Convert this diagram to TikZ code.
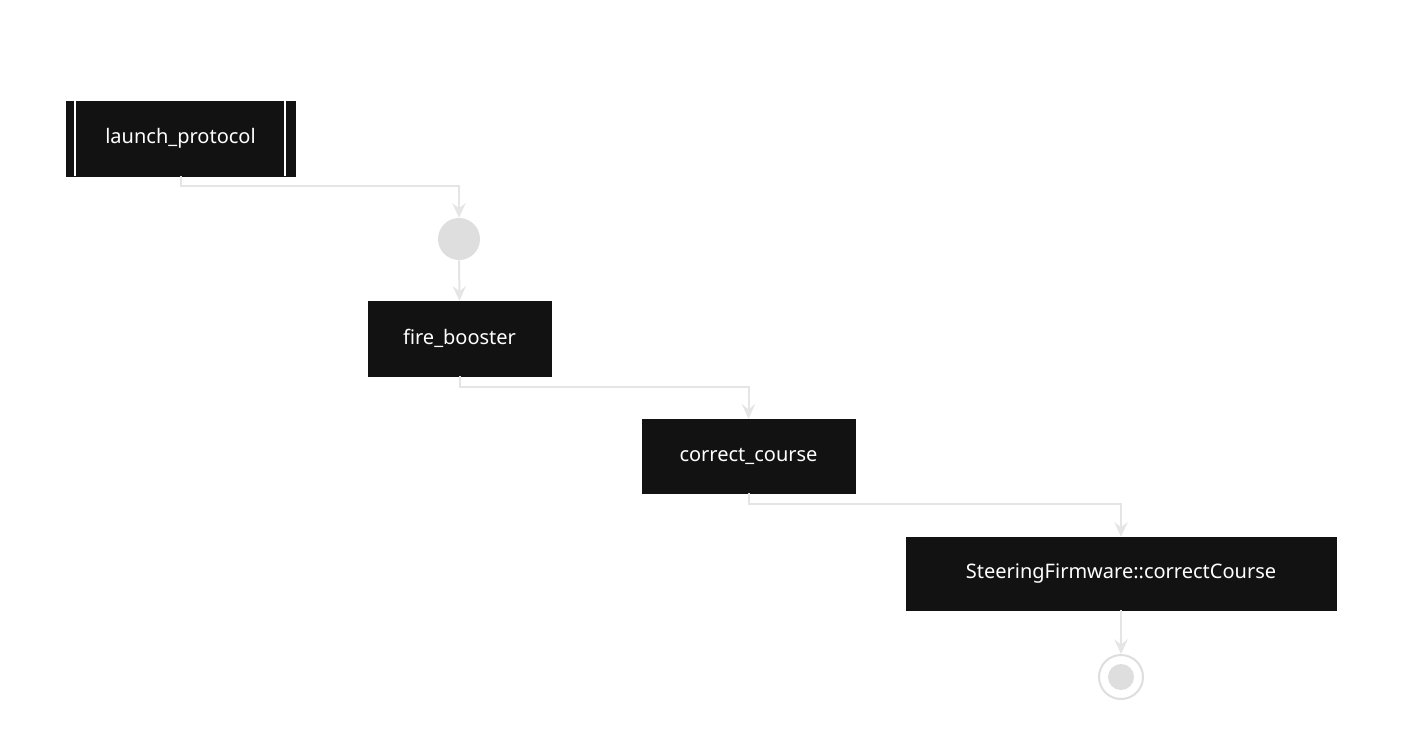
\documentclass[tikz,border=0pt]{standalone}
\usepackage{fontspec}
\setmainfont{Noto Sans}
\usetikzlibrary{arrows.meta}
\begin{document}
\begin{tikzpicture}[x=0.75pt,y=-0.75pt,
  box/.style={fill=black!93,draw=black!93,text=white,font=\fontsize{15}{18}\selectfont,inner sep=0pt},
  conn/.style={draw=black!10,line width=1.5pt,-{Stealth[length=11pt,width=10pt,inset=4pt]}}]
\path[use as bounding box,fill=white] (0,0) rectangle (1401,740);
\node[box,minimum width=229*0.75pt,minimum height=75*0.75pt] (lp) at (180.5,138.5) {launch\_protocol};
\draw[white,line width=1pt] (75,101) -- (75,176) (285,101) -- (285,176);
\node[circle,fill=black!13,minimum size=42*0.75pt,inner sep=0pt] (st) at (459,239) {};
\node[box,minimum width=183*0.75pt,minimum height=75*0.75pt] (fb) at (459.5,338.5) {fire\_booster};
\node[box,minimum width=213*0.75pt,minimum height=74*0.75pt] (cc) at (748.5,456) {correct\_course};
\node[box,minimum width=430*0.75pt,minimum height=73*0.75pt] (sf) at (1121,573.5) {SteeringFirmware::correctCourse};
\node[circle,draw=black!13,line width=1.5pt,minimum size=44*0.75pt,inner sep=0pt] (en) at (1121,677) {};
\node[circle,fill=black!13,minimum size=26*0.75pt,inner sep=0pt] at (en) {};
\draw[conn] (lp.south) -- ++(0,10) -| (st.north);
\draw[conn] (st.south) -- (fb.north);
\draw[conn] (fb.south) -- ++(0,11) -| (cc.north);
\draw[conn] (cc.south) -- ++(0,11) -| (sf.north);
\draw[conn] (sf.south) -- (en.north);
\end{tikzpicture}
\end{document}
